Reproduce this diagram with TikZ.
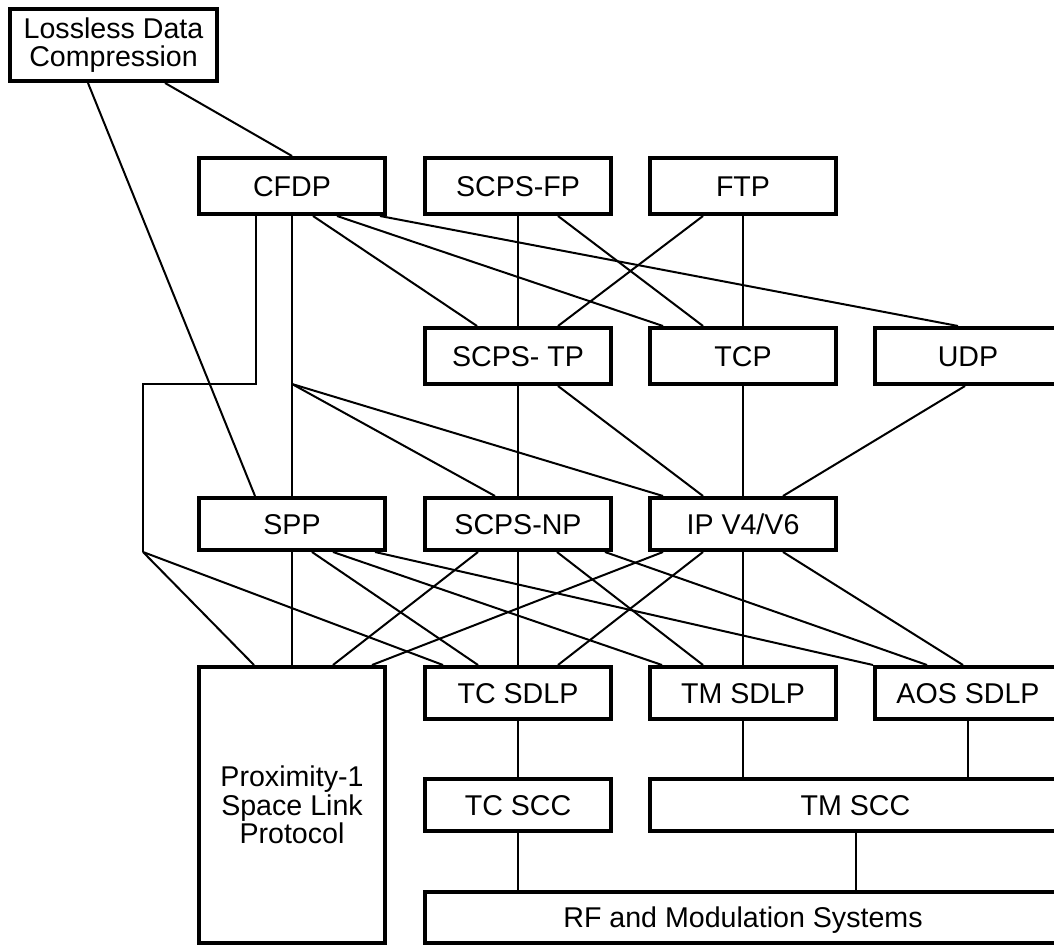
\documentclass[tikz,border=0pt]{standalone}
\usepackage{fontspec}
\setmainfont{Liberation Sans}
\begin{document}
\begin{tikzpicture}[x=1pt,y=-1pt,
  box/.style={draw, line width=4pt, inner sep=0pt, minimum width=186pt, minimum height=56pt,
    font=\fontsize{28.6}{28.6}\selectfont, align=center},
  one/.style={text height=20.5pt, text depth=0pt},
  conn/.style={line width=2pt}]
\useasboundingbox (0,0) rectangle (1054,947);
\clip (0,0) rectangle (1054,947);
% nodes
\node[box, minimum width=207pt, minimum height=72pt] (ldc) at (113.5,45) {Lossless Data\\Compression};
\node[box, one] (cfdp) at (292,186) {CFDP};
\node[box, one] (scpsfp) at (518,186) {SCPS-FP};
\node[box, one] (ftp) at (743,186) {FTP};
\node[box, one] (scpstp) at (518,356) {SCPS- TP};
\node[box, one] (tcp) at (743,356) {TCP};
\node[box, one] (udp) at (968,356) {UDP};
\node[box, one, minimum height=52pt] (spp) at (292,524) {SPP};
\node[box, one, minimum height=52pt] (scpsnp) at (518,524) {SCPS-NP};
\node[box, one, minimum height=52pt] (ip) at (743,524) {IP V4/V6};
\node[box, minimum height=276pt] (prox) at (292,805) {Proximity-1\\Space Link\\Protocol};
\node[box, one, minimum height=52pt] (tcsdlp) at (518,693) {TC SDLP};
\node[box, one, minimum height=52pt] (tmsdlp) at (743,693) {TM SDLP};
\node[box, one, minimum height=52pt] (aos) at (968,693) {AOS SDLP};
\node[box, one, minimum height=52pt] (tcscc) at (518,805) {TC SCC};
\node[box, one, minimum height=52pt, minimum width=411pt] (tmscc) at (855.5,805) {TM SCC};
\node[box, one, minimum height=51pt, minimum width=636pt] (rf) at (743,917.5) {RF and Modulation Systems};
% helper coordinates
\coordinate (c0) at (143,384);
\coordinate (j1) at (143,552);
\coordinate (j2) at (292,384);
% Lossless Data Compression
\draw[conn] ([xshift=-25.5pt]ldc.south) -- ([xshift=-37pt]spp.north);
\draw[conn] ([xshift=51.5pt]ldc.south) -- (cfdp.north);
% CFDP
\draw[conn, line join=miter] ([xshift=-36pt]cfdp.south) |- (c0) -- (j1);
\draw[conn] (j1) -- ([xshift=-38pt]prox.north);
\draw[conn] (j1) -- ([xshift=-75pt]tcsdlp.north);
\draw[conn] (cfdp.south) -- (spp.north);
\draw[conn] (j2) -- ([xshift=-23pt]scpsnp.north);
\draw[conn] (j2) -- ([xshift=-80pt]ip.north);
\draw[conn] ([xshift=21pt]cfdp.south) -- ([xshift=-41pt]scpstp.north);
\draw[conn] ([xshift=45pt]cfdp.south) -- ([xshift=-80pt]tcp.north);
\draw[conn] ([xshift=88pt]cfdp.south) -- ([xshift=-10pt]udp.north);
% SCPS-FP
\draw[conn] (scpsfp.south) -- (scpstp.north);
\draw[conn] ([xshift=40pt]scpsfp.south) -- ([xshift=-40pt]tcp.north);
% FTP
\draw[conn] ([xshift=-40pt]ftp.south) -- ([xshift=40pt]scpstp.north);
\draw[conn] (ftp.south) -- (tcp.north);
% SCPS-TP, TCP, UDP
\draw[conn] (scpstp.south) -- (scpsnp.north);
\draw[conn] ([xshift=40pt]scpstp.south) -- ([xshift=-40pt]ip.north);
\draw[conn] (tcp.south) -- (ip.north);
\draw[conn] ([xshift=-3pt]udp.south) -- ([xshift=40pt]ip.north);
% SPP
\draw[conn] (spp.south) -- (prox.north);
\draw[conn] ([xshift=20pt]spp.south) -- ([xshift=-40pt]tcsdlp.north);
\draw[conn] ([xshift=41pt]spp.south) -- ([xshift=-81pt]tmsdlp.north);
\draw[conn] ([xshift=83pt]spp.south) -- (aos.north west);
% SCPS-NP
\draw[conn] ([xshift=-40pt]scpsnp.south) -- ([xshift=41pt]prox.north);
\draw[conn] (scpsnp.south) -- (tcsdlp.north);
\draw[conn] ([xshift=39pt]scpsnp.south) -- ([xshift=-40pt]tmsdlp.north);
\draw[conn] ([xshift=87pt]scpsnp.south) -- ([xshift=-41pt]aos.north);
% IP
\draw[conn] ([xshift=-80pt]ip.south) -- ([xshift=80pt]prox.north);
\draw[conn] ([xshift=-40pt]ip.south) -- ([xshift=40pt]tcsdlp.north);
\draw[conn] (ip.south) -- (tmsdlp.north);
\draw[conn] ([xshift=40pt]ip.south) -- ([xshift=-5pt]aos.north);
% lower stack
\draw[conn] (tcsdlp.south) -- (tcscc.north);
\draw[conn] (tmsdlp.south) -- (tmsdlp.south |- tmscc.north);
\draw[conn] (aos.south) -- (aos.south |- tmscc.north);
\draw[conn] (tcscc.south) -- (tcscc.south |- rf.north);
\draw[conn] (tmscc.south) -- (tmscc.south |- rf.north);
\end{tikzpicture}
\end{document}
